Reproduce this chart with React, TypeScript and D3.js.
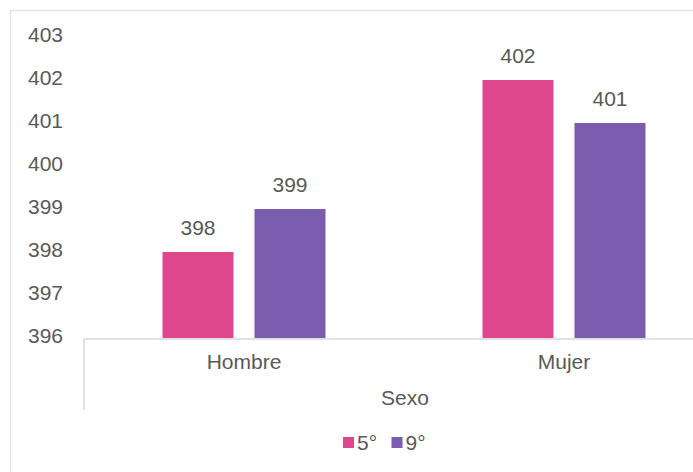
import * as d3 from "d3";

const categories = ["Hombre", "Mujer"];
const series = ["5°", "9°"];
const values5 = [398, 402];
const values9 = [399, 401];
const yTicks = [396, 397, 398, 399, 400, 401, 402, 403];
const axisTitle = "Sexo";

const colors: Record<string, string> = { "5°": "#DE478B", "9°": "#7A5DAE" };
const textColor = "#595959";
const font = "'Liberation Sans', Arial, sans-serif";

export default function App() {
  const width = 693;
  const height = 472;

  const x = d3.scaleBand<string>().domain(categories).range([84, 724]);
  const groupW = 163;
  const xInner = d3
    .scaleBand<string>()
    .domain(series)
    .range([0, groupW])
    .paddingInner(21 / 92);
  const y = d3.scaleLinear().domain([396, 403]).range([338, 37]);

  const rows = categories.map((c, i) => ({
    cat: c,
    vals: [
      { s: series[0], v: values5[i] },
      { s: series[1], v: values9[i] },
    ],
  }));

  const baseY = y(396);

  return (
    <svg
      width={width}
      height={height}
      style={{ position: "absolute", left: 0, top: 0, background: "#fff" }}
      fontFamily={font}
    >
      <rect x={10.5} y={10.5} width={720} height={520} fill="none" stroke="#e3e3e3" strokeWidth={1.5} />

      {/* y tick labels */}
      {yTicks.map((t) => (
        <text key={t} x={28} y={y(t) - 2} dy="0.35em" fontSize={21} fill={textColor}>
          {t}
        </text>
      ))}

      {/* bars */}
      {rows.map((r) => {
        const x0 = (x(r.cat) ?? 0) + (x.bandwidth() - groupW) / 2;
        return (
          <g key={r.cat}>
            {r.vals.map((d) => {
              const bx = x0 + (xInner(d.s) ?? 0);
              return (
                <g key={d.s}>
                  <rect
                    x={bx}
                    y={y(d.v)}
                    width={xInner.bandwidth()}
                    height={baseY - y(d.v)}
                    fill={colors[d.s]}
                  />
                  <text
                    x={bx + xInner.bandwidth() / 2}
                    y={y(d.v) - 17}
                    textAnchor="middle"
                    fontSize={21}
                    fill={textColor}
                  >
                    {d.v}
                  </text>
                </g>
              );
            })}
          </g>
        );
      })}

      {/* category axis */}
      <line x1={84} x2={width} y1={baseY + 1} y2={baseY + 1} stroke="#d9d9d9" strokeWidth={1.5} />
      <line x1={84} x2={84} y1={baseY + 1} y2={410} stroke="#d9d9d9" strokeWidth={1.5} />
      {categories.map((c) => (
        <text
          key={c}
          x={(x(c) ?? 0) + x.bandwidth() / 2}
          y={369}
          textAnchor="middle"
          fontSize={21}
          fill={textColor}
        >
          {c}
        </text>
      ))}
      <text x={405} y={405} textAnchor="middle" fontSize={21} fill={textColor}>
        {axisTitle}
      </text>

      {/* legend */}
      {series.map((s, i) => {
        const lx = 343 + i * 48.5;
        return (
          <g key={s}>
            <rect x={lx} y={437} width={11} height={11} fill={colors[s]} />
            <text x={lx + 14} y={450} fontSize={21} fill={textColor}>
              {s}
            </text>
          </g>
        );
      })}
    </svg>
  );
}
